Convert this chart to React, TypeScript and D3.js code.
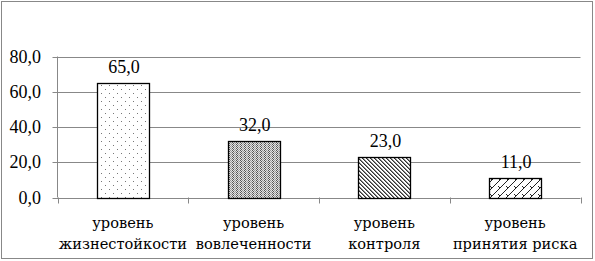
import React from "react";
import * as d3 from "d3";

const categories: string[][] = [
  ["уровень", "жизнестойкости"],
  ["уровень", "вовлеченности"],
  ["уровень", "контроля"],
  ["уровень", "принятия риска"],
];
const values: number[] = [65.0, 32.0, 23.0, 11.0];
const yTicks: number[] = [0, 20, 40, 60, 80];
const patternIds: string[] = ["pDots", "pCheck", "pDiag", "pBrick"];

const W = 595;
const H = 261;
const NUM_FONT = '"Liberation Serif", "Times New Roman", serif';
const CYR_FONT = '"DejaVu Serif", serif';

export default function App() {
  const x0 = 57.5, x1 = 580.5, yTop = 56.5, yBot = 197.5;
  const x = d3.scaleBand<number>().domain(d3.range(values.length)).range([x0, x1]).paddingInner(0).paddingOuter(0);
  const y = d3.scaleLinear().domain([0, 80]).range([yBot, yTop]);
  const bw = 52;
  const fmt = (v: number) => v.toFixed(1).replace(".", ",");
  const grid = "#888";
  const numStyle: React.CSSProperties = { fontFamily: NUM_FONT, fontSize: "18px" };
  const cyrStyle: React.CSSProperties = { fontFamily: CYR_FONT, fontSize: "14.6px" };

  return (
    <svg width={W} height={H} style={{ position: "absolute", left: 0, top: 0 }}>
      <defs>
        <pattern id="pDots" width={8} height={8} patternUnits="userSpaceOnUse">
          <rect width={8} height={8} fill="#fff" />
          <rect x={1} y={1} width={1} height={1} fill="#777" />
          <rect x={5} y={5} width={1} height={1} fill="#777" />
        </pattern>
        <pattern id="pCheck" width={4} height={2} patternUnits="userSpaceOnUse">
          <rect width={4} height={2} fill="#e2e2e2" />
          <rect x={0} y={0} width={1} height={1} fill="#555" />
          <rect x={1} y={1} width={1} height={1} fill="#555" />
          <rect x={2} y={0} width={1} height={1} fill="#999" />
          <rect x={3} y={1} width={1} height={1} fill="#999" />
        </pattern>
        <pattern id="pDiag" width={4} height={4} patternUnits="userSpaceOnUse">
          <rect width={4} height={4} fill="#fff" />
          <rect x={0} y={0} width={1} height={1} fill="#333" />
          <rect x={1} y={1} width={1} height={1} fill="#333" />
          <rect x={2} y={2} width={1} height={1} fill="#333" />
          <rect x={3} y={3} width={1} height={1} fill="#333" />
          <rect x={1} y={0} width={1} height={1} fill="#888" />
          <rect x={2} y={1} width={1} height={1} fill="#888" />
          <rect x={3} y={2} width={1} height={1} fill="#888" />
          <rect x={0} y={3} width={1} height={1} fill="#888" />
        </pattern>
        <pattern id="pBrick" width={8} height={8} patternUnits="userSpaceOnUse">
          <rect width={8} height={8} fill="#fff" />
          <path d="M0,8 L8,0 M-1,1 L1,-1 M7,9 L9,7 M2,2 L4,4" stroke="#222" strokeWidth={1} fill="none" />
        </pattern>
      </defs>

      <rect x={1.5} y={1.5} width={591} height={257} fill="#fff" stroke={grid} strokeWidth={1} />

      {yTicks.map((t) => (
        <g key={t}>
          <line x1={x0 - 5} x2={x1} y1={Math.round(y(t)) + 0.5} y2={Math.round(y(t)) + 0.5} stroke={grid} strokeWidth={1} />
          <text x={41} y={y(t) + 6} textAnchor="end" style={numStyle} fill="#000">{fmt(t)}</text>
        </g>
      ))}
      <line x1={x0} x2={x0} y1={yTop} y2={yBot} stroke={grid} strokeWidth={1} />
      {d3.range(values.length + 1).map((i) => {
        const xx = Math.round(i < values.length ? (x(i) as number) : x1) + 0.5;
        return <line key={i} x1={xx} x2={xx} y1={yBot} y2={yBot + 6} stroke={grid} strokeWidth={1} />;
      })}

      {values.map((v, i) => {
        const cx = (x(i) as number) + x.bandwidth() / 2;
        const top = y(v);
        return (
          <g key={i}>
            <rect x={Math.round(cx - bw / 2) + 0.5} y={Math.round(top) + 0.5} width={bw} height={Math.round(yBot) - Math.round(top)}
              fill={`url(#${patternIds[i]})`} stroke="#000" strokeWidth={1.3} />
            <text x={cx + 1} y={top - 10} textAnchor="middle" style={numStyle} fill="#000">{fmt(v)}</text>
            {categories[i].map((line, j) => (
              <text key={j} x={cx} y={228 + j * 21} textAnchor="middle" style={cyrStyle} fill="#000">{line}</text>
            ))}
          </g>
        );
      })}
    </svg>
  );
}
